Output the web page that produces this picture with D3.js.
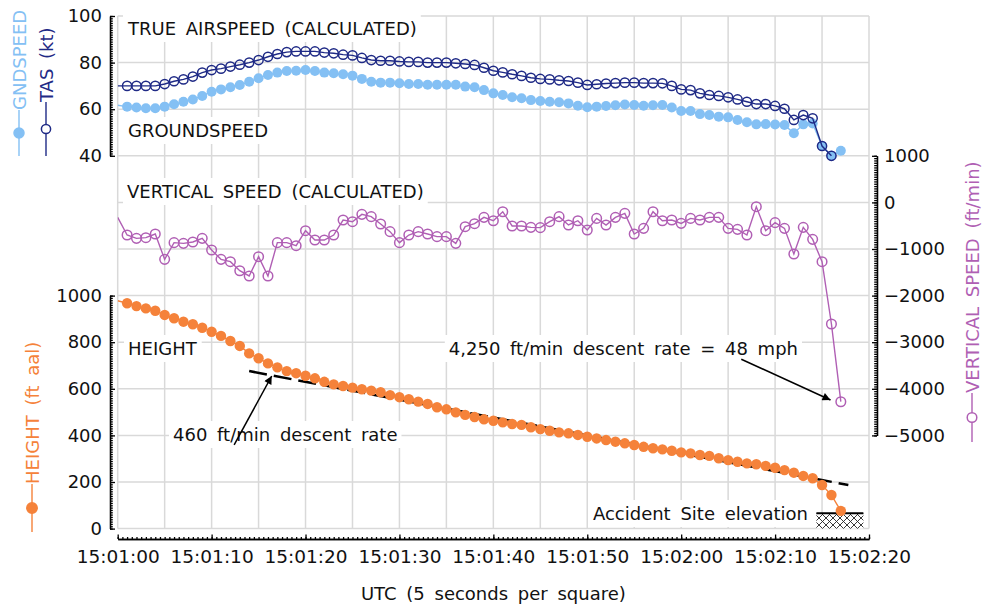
<!DOCTYPE html>
<html>
<head>
<meta charset="utf-8">
<script src="https://cdn.jsdelivr.net/npm/d3@7"></script>
<style>
  body { margin: 0; background: #fff; }
  svg text { font-family: "DejaVu Sans", sans-serif; }
</style>
</head>
<body>
<div id="chart"></div>
<script>
	// 1 Hz log, seconds after 15:01:00. Sample 0 only feeds the line into the left edge.
	var seconds = d3.range(0, 78);

	// groundspeed (kt), t = 0..77
	var gndspeed = [61.7, 61.1, 60.7, 60.4, 60.4, 61.1, 62.1, 63.2, 64.2, 65.7,
		67.5, 68.5, 69.4, 70.4, 71.8, 73.3, 74.7, 75.7, 76.4, 76.5,
		76.8, 76.4, 75.7, 75.4, 75.0, 74.4, 73.0, 71.8, 71.4, 71.4,
		71.1, 70.8, 70.8, 70.5, 70.5, 70.5, 70.5, 69.7, 69.4, 68.2,
		66.8, 66.1, 65.1, 64.7, 63.9, 63.5, 63.2, 63.0, 62.5, 61.5,
		60.8, 61.1, 61.4, 61.7, 62.0, 61.8, 61.5, 61.7, 61.8, 60.7,
		59.2, 59.2, 57.9, 57.5, 56.8, 56.5, 55.4, 54.4, 53.5, 53.6,
		53.4, 53.2, 49.7, 53.5, 53.9, 44.2, 40.0, 42.2];

	// true airspeed (kt), t = 0..76
	var tas = [70.0, 70.0, 70.0, 70.0, 70.0, 70.8, 72.0, 72.8, 74.0, 75.7,
		76.8, 77.4, 78.3, 79.1, 80.0, 81.1, 82.5, 83.7, 84.5, 84.8,
		84.8, 84.8, 84.3, 84.0, 83.4, 83.1, 82.0, 81.1, 80.8, 80.8,
		80.5, 80.3, 80.3, 80.0, 80.0, 80.0, 79.7, 79.4, 79.0, 77.8,
		76.5, 75.8, 75.0, 74.3, 73.5, 73.0, 72.8, 72.4, 72.1, 71.4,
		70.4, 70.7, 71.0, 71.2, 71.4, 71.4, 71.2, 71.2, 71.1, 70.0,
		68.5, 68.2, 66.8, 66.1, 65.7, 65.1, 64.2, 63.2, 62.2, 62.2,
		61.4, 60.2, 55.4, 57.5, 56.1, 44.2, 40.0];

	// vertical speed (ft/min), t = 0..77
	var vspeed = [-320, -700, -771, -757, -678, -1222, -864, -879, -850, -771,
		-1021, -1222, -1272, -1466, -1579, -1165, -1579, -864, -864, -929,
		-607, -807, -807, -700, -378, -414, -256, -306, -464, -628,
		-864, -700, -628, -678, -735, -735, -879, -521, -457, -321,
		-393, -200, -506, -506, -535, -542, -414, -306, -485, -393,
		-592, -343, -485, -321, -235, -678, -557, -200, -393, -378,
		-450, -343, -378, -321, -321, -557, -578, -700, -92, -607,
		-435, -557, -1107, -535, -793, -1272, -2609, -4277];

	// height (ft aal), t = 0..77
	var heightAal = [978, 967, 955, 945, 935, 917, 903, 888, 877, 862,
		845, 827, 805, 784, 752, 731, 709, 692, 676, 667,
		656, 645, 630, 619, 612, 605, 598, 592, 585, 573,
		564, 555, 545, 535, 521, 512, 499, 488, 479, 469,
		463, 456, 449, 445, 435, 427, 420, 413, 409, 402,
		394, 387, 380, 373, 366, 359, 351, 345, 340, 334,
		327, 323, 316, 312, 302, 294, 287, 280, 276, 269,
		261, 251, 240, 226, 216, 187, 144, 76];

	var timeTicks = d3.range(0, 81, 10);
	var spdTicks = [40, 60, 80, 100];
	var vsTicks = [1000, 0, -1000, -2000, -3000, -4000, -5000];
	var htTicks = [0, 200, 400, 600, 800, 1000];

	// 460 ft/min reference line: [t, ft]
	var trend = [[14.0, 676], [77.8, 187]];

	var col = { gs: "#84c0f4", tas: "#1f2a86", vs: "#b05fb4", ht: "#f5823a", grid: "#d9d9d9" };

	var svg = d3.select("#chart").append("svg")
		.attr("width", 983).attr("height", 604);

	var x = d3.scaleLinear().domain([0, 80]).range([117.7, 869]);
	var ySpd = d3.scaleLinear().domain([40, 100]).range([155.8, 16]);
	var yVs = d3.scaleLinear().domain([-5000, 1000]).range([435.4, 155.8]);
	var yHt = d3.scaleLinear().domain([0, 1000]).range([528.6, 295.6]);

	var plotL = x(0), plotR = x(80), plotT = ySpd(100), plotB = yHt(0);

	// grid: one square = 5 s by 200 ft / 1000 ft/min / 20 kt
	var grid = svg.append("g").attr("stroke", col.grid).attr("stroke-width", 1.5);
	d3.range(0, 81, 5).forEach(function (t) {
		grid.append("line").attr("x1", x(t)).attr("x2", x(t)).attr("y1", plotT).attr("y2", plotB);
	});
	d3.range(0, 2201, 200).forEach(function (h) {
		grid.append("line").attr("x1", plotL).attr("x2", plotR).attr("y1", yHt(h)).attr("y2", yHt(h));
	});

	var defs = svg.append("defs");
	defs.append("clipPath").attr("id", "plot")
		.append("rect").attr("x", plotL).attr("y", plotT).attr("width", plotR - plotL).attr("height", plotB - plotT);

	// text labels with white boxes
	var labels = svg.append("g");
	function label(txt, px, py, anchor) {
		var g = labels.append("g");
		var t = g.append("text").attr("x", px).attr("y", py)
			.attr("text-anchor", anchor || "start")
			.style("font-size", "18px").style("word-spacing", "4px")
			.attr("fill", "#111").text(txt);
		var b = t.node().getBBox();
		g.insert("rect", "text").attr("x", b.x - 4).attr("y", b.y - 3)
			.attr("width", b.width + 8).attr("height", b.height + 6).attr("fill", "#fff");
		return g;
	}
	label("TRUE AIRSPEED (CALCULATED)", 128, 35);
	label("GROUNDSPEED", 128, 137);
	label("VERTICAL SPEED (CALCULATED)", 127, 198);
	label("HEIGHT", 128, 355);
	label("4,250 ft/min descent rate = 48 mph", 798, 355, "end");
	label("460 ft/min descent rate", 173, 441);
	label("Accident Site elevation", 808, 520, "end");

	// accident site hatch
	var pat = defs.append("pattern").attr("id", "hatch").attr("patternUnits", "userSpaceOnUse")
		.attr("width", 7).attr("height", 7);
	pat.append("rect").attr("width", 7).attr("height", 7).attr("fill", "#fff");
	pat.append("path").attr("d", "M0,0L7,7M7,0L0,7").attr("stroke", "#222").attr("stroke-width", 0.9);
	svg.append("rect").attr("x", x(74.4)).attr("y", yHt(66)).attr("width", x(79.4) - x(74.4))
		.attr("height", yHt(0) - yHt(66)).attr("fill", "url(#hatch)");
	svg.append("line").attr("x1", x(74.4)).attr("x2", x(79.4)).attr("y1", yHt(66)).attr("y2", yHt(66))
		.attr("stroke", "#000").attr("stroke-width", 2);

	// dashed 460 ft/min trend
	svg.append("line")
		.attr("x1", x(trend[0][0])).attr("y1", yHt(trend[0][1]))
		.attr("x2", x(trend[1][0])).attr("y2", yHt(trend[1][1]))
		.attr("stroke", "#000").attr("stroke-width", 2.5).attr("stroke-dasharray", "18,7");

	var data = svg.append("g").attr("clip-path", "url(#plot)");

	function series(values, yScale, color, filled, r) {
		var line = d3.line().x(function (d, i) { return x(seconds[i]); }).y(function (d) { return yScale(d); });
		data.append("path").datum(values).attr("d", line)
			.attr("fill", "none").attr("stroke", color).attr("stroke-width", 1.4);
		data.append("g").selectAll("circle").data(values.slice(1)).join("circle")
			.attr("cx", function (d, i) { return x(seconds[i + 1]); })
			.attr("cy", function (d) { return yScale(d); })
			.attr("r", r)
			.attr("fill", filled ? color : "none")
			.attr("stroke", filled ? "none" : color)
			.attr("stroke-width", 1.5);
	}
	series(gndspeed, ySpd, col.gs, true, 5);
	series(tas, ySpd, col.tas, false, 4.6);
	series(vspeed, yVs, col.vs, false, 4.8);
	series(heightAal, yHt, col.ht, true, 5.2);

	// arrows
	defs.append("marker").attr("id", "head").attr("viewBox", "0 0 10 10")
		.attr("refX", 10).attr("refY", 5).attr("markerWidth", 16).attr("markerHeight", 8)
		.attr("markerUnits", "userSpaceOnUse").attr("orient", "auto")
		.append("path").attr("d", "M0,0L10,5L0,10z").attr("fill", "#000");
	function arrow(x1, y1, x2, y2) {
		svg.append("line").attr("x1", x1).attr("y1", y1).attr("x2", x2).attr("y2", y2)
			.attr("stroke", "#000").attr("stroke-width", 1.5).attr("marker-end", "url(#head)");
	}
	arrow(x(12.4), yHt(359), x(16.4), yHt(655));
	arrow(x(66.4), yVs(-3365), x(75.9), yVs(-4240));

	// axes
	function styleAxis(g) {
		g.selectAll("path, line").attr("stroke", "#000").attr("stroke-width", 1.3);
		g.selectAll("text").attr("fill", "#111").style("font-size", "18px");
	}
	function leftAxis(scale, ticks, minorStep) {
		var d = scale.domain();
		svg.append("g").attr("transform", "translate(110,0)")
			.call(d3.axisLeft(scale).tickValues(d3.range(d[0], d[1] + 0.001, minorStep)).tickSize(-2.8).tickSizeOuter(0).tickFormat(""))
			.call(styleAxis);
		svg.append("g").attr("transform", "translate(110,0)")
			.call(d3.axisLeft(scale).tickValues(ticks).tickSize(-5).tickSizeOuter(0).tickPadding(8).tickFormat(d3.format("d")))
			.call(styleAxis);
	}
	leftAxis(ySpd, spdTicks, 1);
	leftAxis(yHt, htTicks, 10);

	svg.append("g").attr("transform", "translate(877,0)")
		.call(d3.axisRight(yVs).tickValues(d3.range(-5000, 1001, 50)).tickSize(-2.8).tickSizeOuter(0).tickFormat(""))
		.call(styleAxis);
	svg.append("g").attr("transform", "translate(877,0)")
		.call(d3.axisRight(yVs).tickValues(vsTicks).tickSize(-5).tickSizeOuter(0).tickPadding(7).tickFormat(d3.format("d")))
		.call(styleAxis);

	function clock(t) {
		var s = 60 + t;
		return "15:" + d3.format("02")(Math.floor(s / 60)) + ":" + d3.format("02")(s % 60);
	}
	svg.append("g").attr("transform", "translate(0,539)")
		.call(d3.axisBottom(x).tickValues(d3.range(0, 80.001, 0.5)).tickSize(-2).tickSizeOuter(0).tickFormat(""))
		.call(styleAxis);
	svg.append("g").attr("transform", "translate(0,539)")
		.call(d3.axisBottom(x).tickValues(timeTicks).tickSize(-4.5).tickSizeOuter(0).tickPadding(11).tickFormat(clock))
		.call(styleAxis)
		.selectAll("text").style("font-size", "18.5px");

	svg.append("text").attr("x", (plotL + plotR) / 2).attr("y", 600)
		.attr("text-anchor", "middle").style("font-size", "18px").style("word-spacing", "4px")
		.attr("fill", "#111").text("UTC (5 seconds per square)");

	// rotated legend entries: symbol at the bottom, text reading upwards
	function legendEntry(px, yBottom, symTop, txt, color, filled, r) {
		var g = svg.append("g");
		g.append("line").attr("x1", px).attr("x2", px).attr("y1", symTop).attr("y2", yBottom)
			.attr("stroke", color).attr("stroke-width", 1.4);
		g.append("circle").attr("cx", px).attr("cy", (symTop + yBottom) / 2).attr("r", r)
			.attr("fill", filled ? color : "#fff").attr("stroke", color).attr("stroke-width", 1.5);
		g.append("text").attr("transform", "translate(" + (px + 6.5) + "," + symTop + ") rotate(-90)")
			.style("font-size", "18px").style("word-spacing", "4px")
			.attr("fill", color).text(txt);
	}
	legendEntry(19, 156, 110, "GNDSPEED", col.gs, true, 5);
	legendEntry(46, 156, 102, "TAS (kt)", col.tas, false, 4.6);
	legendEntry(32, 532, 484, "HEIGHT (ft aal)", col.ht, true, 5.2);
	legendEntry(972, 442, 393, "VERTICAL SPEED (ft/min)", col.vs, false, 4.8);
</script>
</body>
</html>
